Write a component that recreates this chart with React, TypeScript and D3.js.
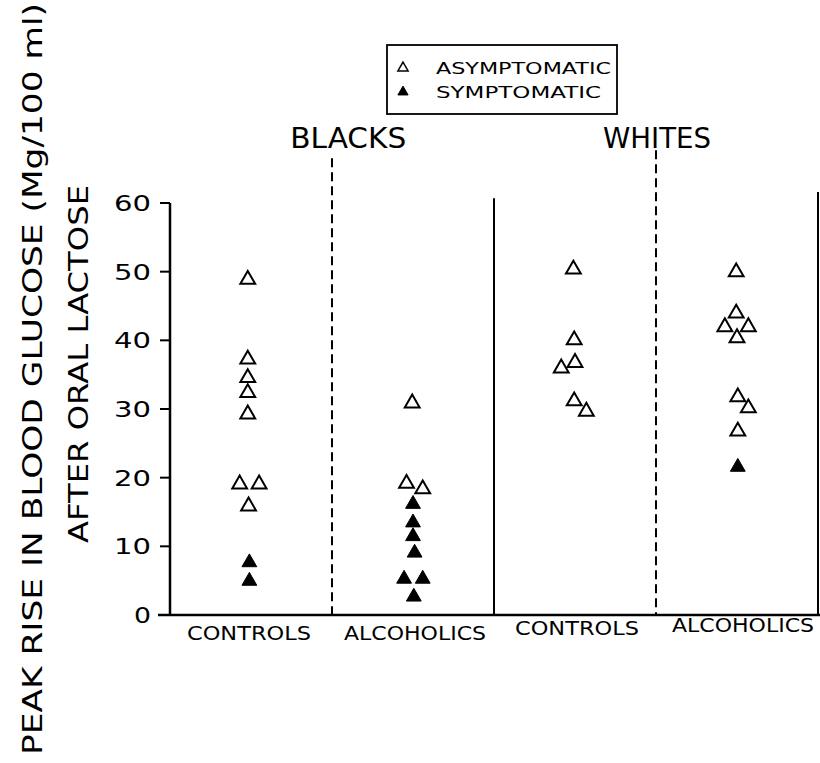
import React from "react";
import * as d3 from "d3";

// ---- data ----
const groups = ["CONTROLS", "ALCOHOLICS", "CONTROLS", "ALCOHOLICS"];
const populations = ["BLACKS", "WHITES"];
const legendLabels = ["ASYMPTOMATIC", "SYMPTOMATIC"];
const yTicks = [0, 10, 20, 30, 40, 50, 60];

// value, horizontal jitter (in group units), symptomatic flag
const blackControlsValues = [49.0, 37.4, 34.7, 32.5, 29.4, 19.2, 19.2, 16.0, 7.8, 5.1];
const blackControlsJitter = [-0.02, -0.02, -0.02, -0.02, -0.02, -0.07, 0.05, -0.015, -0.01, -0.01];
const blackControlsSym = [0, 0, 0, 0, 0, 0, 0, 0, 1, 1];

const blackAlcValues = [31.0, 19.3, 18.5, 16.3, 13.6, 11.6, 9.2, 5.4, 5.4, 2.8];
const blackAlcJitter = [-0.005, -0.04, 0.06, 0, 0, 0, 0.01, -0.055, 0.06, 0.005];
const blackAlcSym = [0, 0, 0, 1, 1, 1, 1, 1, 1, 1];

const whiteControlsValues = [50.5, 40.2, 36.9, 36.1, 31.3, 29.8];
const whiteControlsJitter = [-0.01, -0.005, 0, -0.085, -0.005, 0.07];
const whiteControlsSym = [0, 0, 0, 0, 0, 0];

const whiteAlcValues = [50.1, 44.1, 42.1, 42.1, 40.5, 31.9, 30.3, 26.9, 21.7];
const whiteAlcJitter = [-0.005, -0.005, -0.075, 0.07, 0, 0.005, 0.07, 0.005, 0.005];
const whiteAlcSym = [0, 0, 0, 0, 0, 0, 0, 0, 1];

// divider positions (group units) and top (data units)
const dividerX = [0.5, 1.5, 2.5, 3.5];
const dividerTop = [66.5, 60.7, 67.7, 61.6];
const dividerDashed = [true, false, true, false];

const FONT = "'DejaVu Sans', 'Liberation Sans', sans-serif";

export default function App() {
  const W = 820, H = 763;
  const x = d3.scaleLinear().domain([-0.5, 3.5]).range([170, 818]);
  const y = d3.scaleLinear().domain([0, 60]).range([615, 203]);
  const tri = d3.symbol().type(d3.symbolTriangle).size(95)()!;
  const triSmall = d3.symbol().type(d3.symbolTriangle).size(45)()!;

  const series = [
    { g: 0, v: blackControlsValues, j: blackControlsJitter, s: blackControlsSym },
    { g: 1, v: blackAlcValues, j: blackAlcJitter, s: blackAlcSym },
    { g: 2, v: whiteControlsValues, j: whiteControlsJitter, s: whiteControlsSym },
    { g: 3, v: whiteAlcValues, j: whiteAlcJitter, s: whiteAlcSym },
  ];
  const points = series.flatMap((sr) =>
    sr.v.map((v, i) => ({ gx: sr.g + sr.j[i], v, sym: sr.s[i] === 1 }))
  );

  return (
    <svg width={W} height={H} style={{ position: "absolute", left: 0, top: 0, background: "#fff" }}>
      <rect width={W} height={H} fill="#fff" />
      {/* y axis */}
      <line x1={x(-0.5)} x2={x(-0.5)} y1={y(60)} y2={y(0)} stroke="#000" strokeWidth={2.5} />
      <line x1={x(-0.5) - 12} x2={W} y1={y(0)} y2={y(0)} stroke="#000" strokeWidth={2.5} />
      {yTicks.map((t) => (
        <g key={t}>
          <line x1={x(-0.5) - 10} x2={x(-0.5)} y1={y(t)} y2={y(t)} stroke="#000" strokeWidth={2} />
          <text x={x(-0.5) - 19} y={y(t)} dy="0.36em" textAnchor="end" fontFamily={FONT} fontSize={22}
            textLength={t === 0 ? 17 : 37} lengthAdjust="spacingAndGlyphs">{t}</text>
        </g>
      ))}
      {/* dividers */}
      {dividerX.map((dx, i) => (
        <line key={i} x1={x(dx)} x2={x(dx)} y1={y(dividerTop[i])} y2={y(0)} stroke="#000"
          strokeWidth={2} strokeDasharray={dividerDashed[i] ? "9 5" : undefined} />
      ))}
      {/* population titles */}
      <text x={x(0.6)} y={y(69.5)} textAnchor="middle" fontFamily={FONT} fontSize={28}
        textLength={116} lengthAdjust="spacingAndGlyphs" dy="0.36em">{populations[0]}</text>
      <text x={x(2.5) + 1} y={y(69.5)} textAnchor="middle" fontFamily={FONT} fontSize={28}
        textLength={108} lengthAdjust="spacingAndGlyphs" dy="0.36em">{populations[1]}</text>
      {/* category labels */}
      {groups.map((g, i) => (
        <text key={i} x={x(i) + (i === 0 ? -2 : i === 3 ? 6 : 2)} y={y(0) + 18 - (i >= 2 ? 5 : 0) - (i === 3 ? 3 : 0)}
          dy="0.36em" textAnchor="middle" fontFamily={FONT} fontSize={20}
          textLength={g === "CONTROLS" ? 124 : 142} lengthAdjust="spacingAndGlyphs">{g}</text>
      ))}
      {/* points */}
      {points.map((p, i) => (
        <path key={i} d={tri} transform={`translate(${x(p.gx)},${y(p.v) + 1})`}
          fill={p.sym ? "#000" : "#fff"} stroke="#000" strokeWidth={p.sym ? 1 : 2} />
      ))}
      {/* legend */}
      <rect x={387} y={45} width={230} height={69} fill="#fff" stroke="#000" strokeWidth={1.8} />
      {legendLabels.map((l, i) => (
        <g key={l}>
          <path d={triSmall} transform={`translate(403,${68 + i * 24})`} fill={i === 1 ? "#000" : "#fff"}
            stroke="#000" strokeWidth={i === 1 ? 1 : 1.5} />
          <text x={436} y={68 + i * 24} dy="0.36em" fontFamily={FONT} fontSize={16}
            textLength={i === 0 ? 175 : 165} lengthAdjust="spacingAndGlyphs">{l}</text>
        </g>
      ))}
      {/* y axis title */}
      <text transform="translate(42,379) rotate(-90)" textAnchor="middle" fontFamily={FONT} fontSize={27}
        textLength={752} lengthAdjust="spacingAndGlyphs">PEAK RISE IN BLOOD GLUCOSE (Mg/100 ml)</text>
      <text transform="translate(88,364) rotate(-90)" textAnchor="middle" fontFamily={FONT} fontSize={26}
        textLength={358} lengthAdjust="spacingAndGlyphs">AFTER ORAL LACTOSE</text>
    </svg>
  );
}
